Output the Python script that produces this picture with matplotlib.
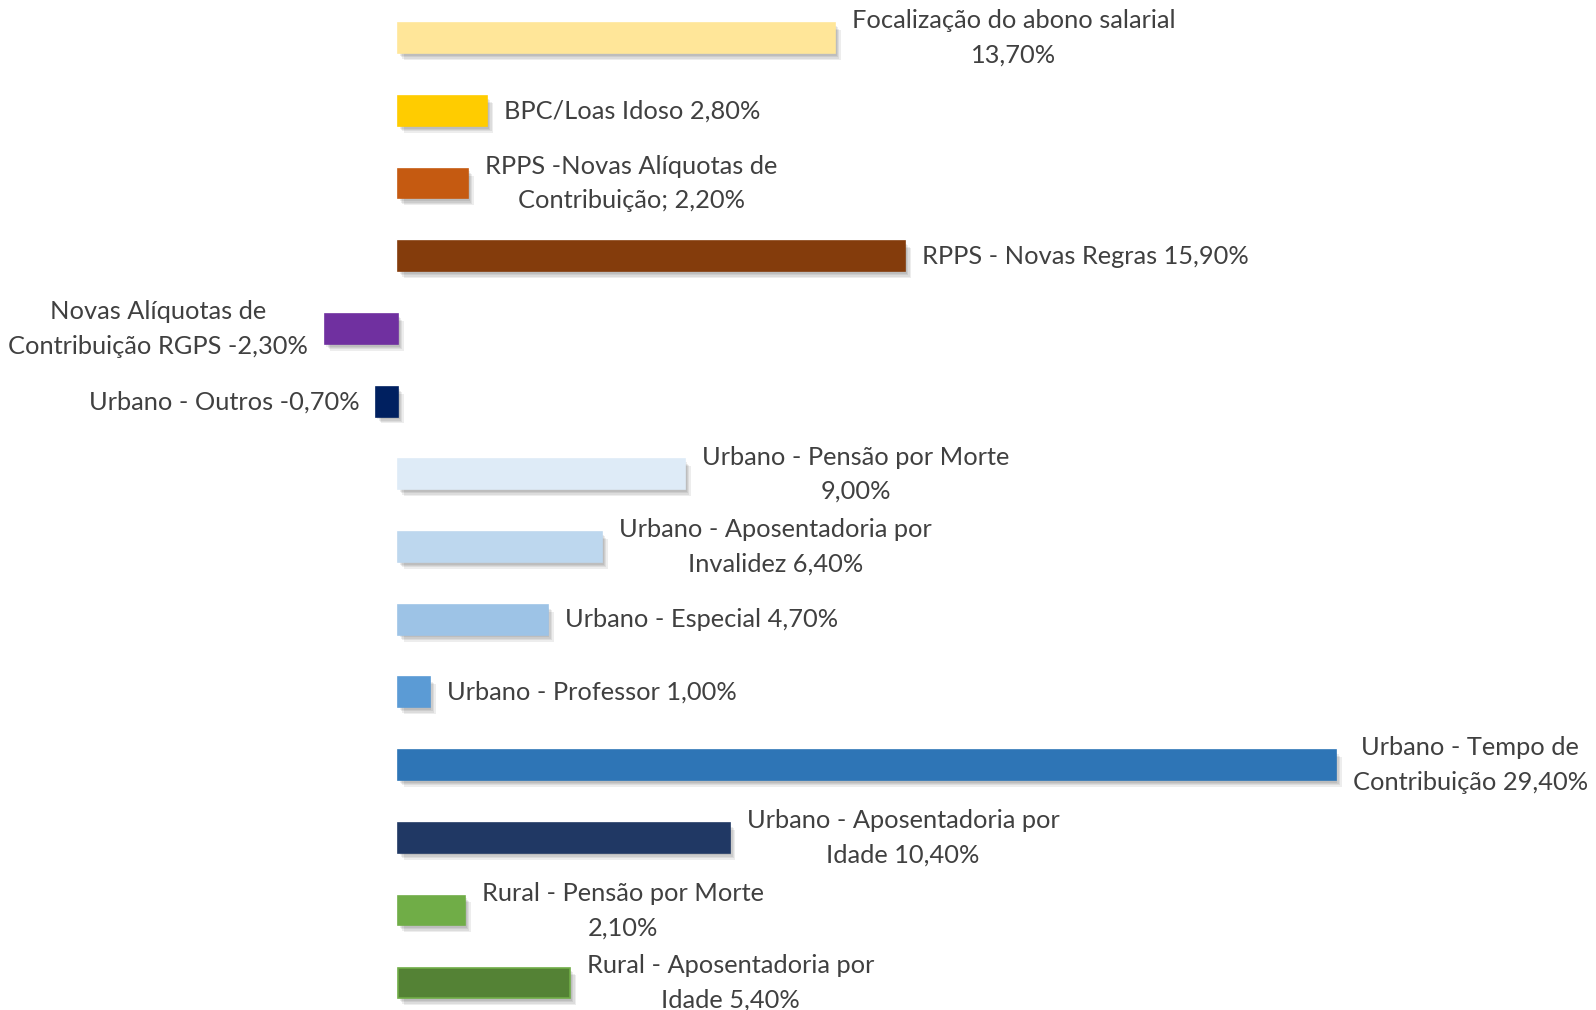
import matplotlib

matplotlib.use("Agg")
import matplotlib.pyplot as plt
import matplotlib.patheffects as pe

labels = [
    "Focalização do abono salarial\n13,70%",
    "BPC/Loas Idoso 2,80%",
    "RPPS -Novas Alíquotas de\nContribuição; 2,20%",
    "RPPS - Novas Regras 15,90%",
    "Novas Alíquotas de\nContribuição RGPS -2,30%",
    "Urbano - Outros -0,70%",
    "Urbano - Pensão por Morte\n9,00%",
    "Urbano - Aposentadoria por\nInvalidez 6,40%",
    "Urbano - Especial 4,70%",
    "Urbano - Professor 1,00%",
    "Urbano - Tempo de\nContribuição 29,40%",
    "Urbano - Aposentadoria por\nIdade 10,40%",
    "Rural - Pensão por Morte\n2,10%",
    "Rural - Aposentadoria por\nIdade 5,40%",
]
values = [13.7, 2.8, 2.2, 15.9, -2.3, -0.7, 9.0, 6.4, 4.7, 1.0, 29.4, 10.4, 2.1, 5.4]
colors = [
    "#FFE699", "#FFCC00", "#C55A11", "#843C0C", "#7030A0", "#002060",
    "#DEEBF7", "#BDD7EE", "#9DC3E6", "#5B9BD5", "#2E75B6", "#203864",
    "#70AD47", "#548235",
]
edges = colors[:-1] + ["#70AD47"]

plt.rcParams["font.family"] = ["Lato", "DejaVu Sans"]

fig = plt.figure(figsize=(15.96, 10.10), dpi=100)
ax = fig.add_axes([0, 0, 1, 1])
ax.set_axis_off()

y = list(range(len(values)))
bars = ax.barh(y, values, height=0.41, color=colors, edgecolor=edges, linewidth=1.2)
# soft drop shadow: a few faint offset copies
shadow = [
    pe.SimplePatchShadow(offset=(o, -o - 1), shadow_rgbFace="#000000", alpha=0.07)
    for o in (4, 3, 2, 1)
] + [pe.Normal()]
for b in bars:
    b.set_path_effects(shadow)

for yi, v, lab in zip(y, values, labels):
    dx = 12 if v >= 0 else -12
    ax.annotate(lab, (v, yi), xytext=(dx, 0), textcoords="offset points",
                ha="left" if v >= 0 else "right", va="center",
                multialignment="center", fontsize=18.3, color="#404040",
                linespacing=1.6)

ax.set_xlim(-12.48, 37.55)
ax.set_ylim(13.37, -0.525)

fig.savefig("out.png", dpi=100)
